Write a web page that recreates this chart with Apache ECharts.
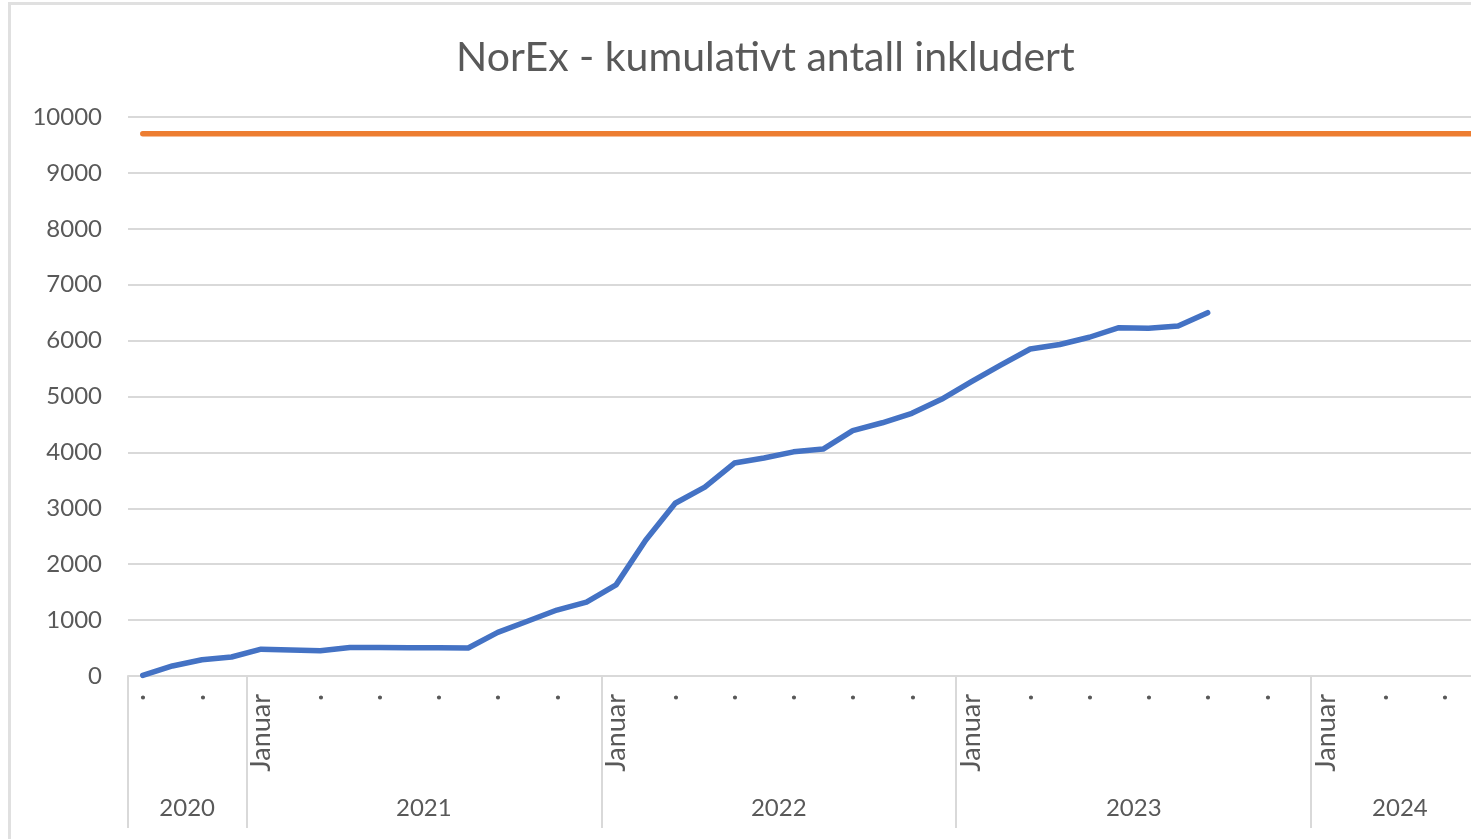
<!DOCTYPE html>
<html>
<head>
<meta charset="utf-8">
<script src="https://cdn.jsdelivr.net/npm/echarts@6/dist/echarts.min.js"></script>
<style>
  html, body { margin: 0; padding: 0; background: #ffffff; overflow: hidden; }
  #frame { position: absolute; left: 8px; top: 2px; width: 2000px; height: 2000px; border: 3px solid #e0e0e0; }
  #chart { position: absolute; left: 0; top: 0; width: 1471px; height: 839px; }
</style>
</head>
<body>
<div id="frame"></div>
<div id="chart"></div>
<script>
///////////////////////
// data
///////////////////////

// månedene på x-aksen (sep 2020 - jun 2024)
const monthNames = ['Januar', 'Februar', 'Mars', 'April', 'Mai', 'Juni', 'Juli', 'August', 'September', 'Oktober', 'November', 'Desember'];
const years = ['2020', '2021', '2022', '2023', '2024'];
const monthsPerYear = [4, 12, 12, 12, 6];
const firstMonth = [8, 0, 0, 0, 0];

// kumulativt antall inkludert (sep 2020 - sep 2023)
const included = [10, 180, 290, 340, 480, 465, 450, 510, 510, 505, 505, 500,
    780, 980, 1180, 1320, 1630, 2430, 3090, 3380, 3810, 3900, 4010, 4060,
    4390, 4530, 4700, 4950, 5260, 5560, 5850, 5930, 6060, 6230, 6220, 6260, 6500];

// mål-linje
const targetValue = 9700;

const yTicks = [0, 1000, 2000, 3000, 4000, 5000, 6000, 7000, 8000, 9000, 10000];

///////////////////////
// build categories
///////////////////////
const categories = [];
const yearBounds = [0];
const yearCenters = [];
years.forEach((y, i) => {
    const start = categories.length;
    for (let m = 0; m < monthsPerYear[i]; m++) {
        categories.push(monthNames[firstMonth[i] + m] + ' ' + y);
    }
    yearBounds.push(categories.length);
    yearCenters.push((start + categories.length) / 2);
});
const target = categories.map(() => targetValue);

const labelColor = '#595959';
const font = 'Lato, "Open Sans", sans-serif';

const chart = echarts.init(document.getElementById('chart'));
const option = {
    backgroundColor: 'transparent',
    animation: false,
    title: {
        text: 'NorEx - kumulativt antall inkludert',
        left: 451,
        top: 32,
        textStyle: { color: labelColor, fontSize: 41, fontWeight: 'normal', fontFamily: font }
    },
    grid: {
        left: 128,
        top: 117,
        height: 559,
        width: categories.length * 29.58,
        containLabel: false,
        outerBoundsMode: 'none'
    },
    xAxis: [{
        type: 'category',
        data: categories,
        boundaryGap: true,
        axisLine: { lineStyle: { color: '#d9d9d9', width: 2 } },
        axisTick: { show: false },
        axisLabel: {
            interval: 1,
            rotate: 90,
            margin: 18,
            color: labelColor,
            fontSize: 27,
            fontFamily: font,
            formatter: v => v.startsWith('Januar') ? 'Januar' : '·'
        }
    }, {
        type: 'value',
        min: 0,
        max: categories.length,
        position: 'bottom',
        axisLine: { show: false },
        splitLine: { show: false },
        axisTick: {
            show: true,
            length: 152,
            customValues: yearBounds,
            lineStyle: { color: '#d9d9d9', width: 2 }
        },
        axisLabel: {
            customValues: yearCenters,
            margin: 120,
            color: labelColor,
            fontSize: 24,
            fontFamily: font,
            formatter: v => years[yearCenters.indexOf(v)] || ''
        }
    }],
    yAxis: {
        type: 'value',
        min: yTicks[0],
        max: yTicks[yTicks.length - 1],
        interval: 1000,
        axisLine: { show: false },
        axisTick: { show: false },
        axisLabel: { color: labelColor, fontSize: 24, fontFamily: font, margin: 26, formatter: v => String(v) },
        splitLine: { lineStyle: { color: '#d9d9d9', width: 2 } }
    },
    series: [{
        name: 'Inkludert',
        type: 'line',
        data: included,
        showSymbol: false,
        lineStyle: { color: '#4472C4', width: 5.5, cap: 'round', join: 'round' },
        itemStyle: { color: '#4472C4' }
    }, {
        name: 'Mål',
        type: 'line',
        data: target,
        showSymbol: false,
        lineStyle: { color: '#ED7D31', width: 5.5, cap: 'round' },
        itemStyle: { color: '#ED7D31' }
    }]
};
chart.setOption(option);
</script>
</body>
</html>
